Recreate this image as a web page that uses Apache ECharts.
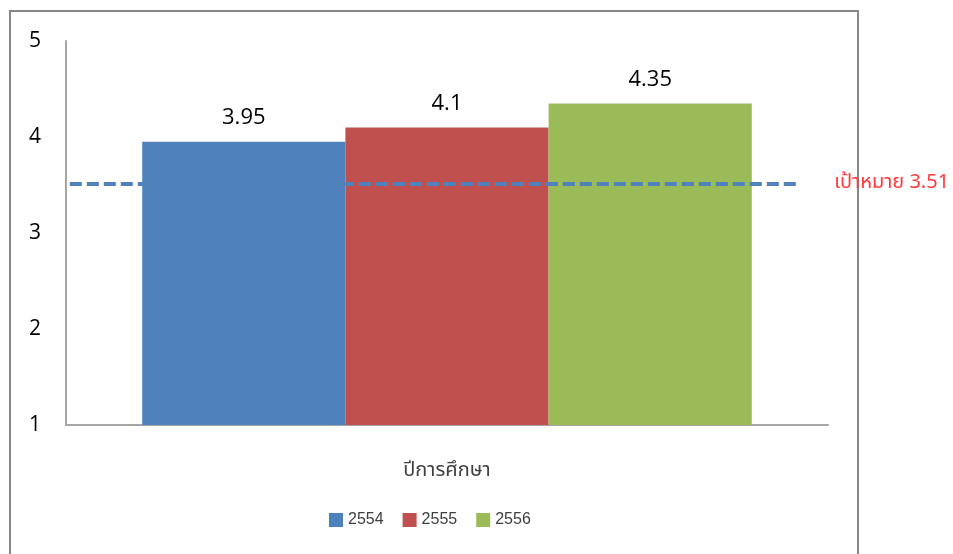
<!DOCTYPE html>
<html><head><meta charset="utf-8">
<script src="https://cdn.jsdelivr.net/npm/echarts@6/dist/echarts.min.js"></script>
<style>html,body{margin:0;padding:0;background:#fff}#c{width:953px;height:554px}</style>
</head><body><div id="c"></div>
<script>
const categories = [''];
const seriesNames = ['2554', '2555', '2556'];
const seriesValues = [[3.95], [4.1], [4.35]];
const seriesColors = ['#4F81BD', '#C0504D', '#9BBB59'];
const targetValue = 3.51;
const targetLabel = 'เป้าหมาย 3.51';
const targetSpan = [0.5, 96.1];
const yTicks = [1, 2, 3, 4, 5];
const xAxisName = 'ปีการศึกษา';

const chart = echarts.init(document.getElementById('c'), null, {renderer: 'canvas'});
const thaiFont = '"Tahoma", "Noto Sans Thai", "Loma", "Garuda", "Norasi", "DejaVu Sans", sans-serif';
const series = seriesNames.map((n, i) => ({
  name: n, type: 'bar', xAxisIndex: 0, yAxisIndex: 0, z: 2,
  data: seriesValues[i], barGap: '0%', barCategoryGap: '20%',
  itemStyle: {color: seriesColors[i]},
  label: {show: true, position: 'top', distance: 13, color: '#000', fontSize: 22, fontFamily: '"Open Sans", sans-serif'}
}));
series.push({
  name: 'target', type: 'line', xAxisIndex: 1, yAxisIndex: 0, z: 10, zlevel: 1,
  data: targetSpan.map(x => [x, targetValue]),
  symbol: 'none', silent: true,
  lineStyle: {color: '#4F81BD', width: 4, type: [12, 5]},
  endLabel: {show: true, formatter: targetLabel, color: '#FF3B3B', fontSize: 20, distance: 36, fontFamily: thaiFont}
});
chart.setOption({
  animation: false,
  graphic: [{type: 'rect', shape: {x: 10, y: 11, width: 848, height: 600}, style: {fill: 'none', stroke: '#878787', lineWidth: 2}, z: -1}],
  grid: {left: 66, right: 125, top: 41, bottom: 129},
  legend: {
    data: seriesNames, left: 324, top: 507, itemWidth: 14, itemHeight: 14, itemGap: 19,
    icon: 'rect', textStyle: {fontSize: 16, color: '#404040', fontFamily: '"Liberation Sans", sans-serif'}
  },
  xAxis: [
    {type: 'category', data: categories, name: xAxisName, nameLocation: 'middle', nameGap: 37,
     nameTextStyle: {fontSize: 20, color: '#404040', fontFamily: thaiFont},
     axisLine: {lineStyle: {color: '#A6A6A6', width: 2}}, axisTick: {show: false}, axisLabel: {show: false}},
    {type: 'value', min: 0, max: 100, show: false}
  ],
  yAxis: {type: 'value', min: yTicks[0], max: yTicks[yTicks.length - 1], interval: 1,
    axisLine: {show: true, lineStyle: {color: '#A6A6A6', width: 2}}, axisTick: {show: false}, splitLine: {show: false},
    axisLabel: {fontSize: 21, color: '#000', margin: 25, padding: [3, 0, 0, 0], fontFamily: '"Open Sans", sans-serif'}},
  series: series
});
</script></body></html>
